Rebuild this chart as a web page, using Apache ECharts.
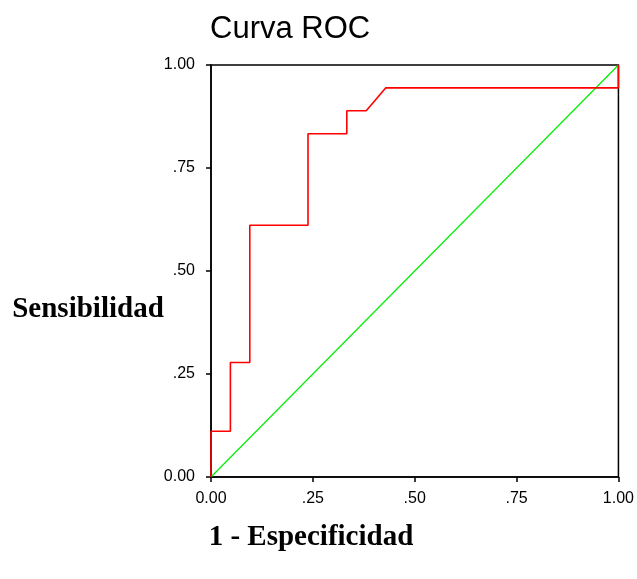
<!DOCTYPE html>
<html>
<head>
<meta charset="utf-8">
<script src="https://cdn.jsdelivr.net/npm/echarts@6/dist/echarts.min.js"></script>
<style>html,body{margin:0;padding:0;background:#fff;}#c{width:637px;height:579px;}</style>
</head>
<body>
<div id="c"></div>
<script>
var titleText = "Curva ROC";
var xName = "1 - Especificidad";
var yName = "Sensibilidad";
var rocX = [0, 0, 0.0476, 0.0476, 0.0952, 0.0952, 0.2381, 0.2381, 0.3333, 0.3333, 0.381, 0.4286, 1, 1];
var rocY = [0, 0.1111, 0.1111, 0.2778, 0.2778, 0.6111, 0.6111, 0.8333, 0.8333, 0.8889, 0.8889, 0.9444, 0.9444, 1];
var refX = [0, 1];
var refY = [0, 1];
var tickValues = [0, 0.25, 0.5, 0.75, 1];
var tickLabels = ["0.00", ".25", ".50", ".75", "1.00"];

function fmt(v) {
  for (var i = 0; i < tickValues.length; i++) {
    if (Math.abs(v - tickValues[i]) < 1e-9) return tickLabels[i];
  }
  return "";
}
function pairs(xs, ys) { return xs.map(function (x, i) { return [x, ys[i]]; }); }

var chart = echarts.init(document.getElementById('c'), null, {renderer: 'canvas'});
var axisCommon = {
  type: 'value', min: 0, max: 1, interval: 0.25,
  splitLine: {show: false},
  axisLine: {show: true, onZero: false, lineStyle: {color: '#000', width: 1.5}},
  axisTick: {show: true, length: 5, lineStyle: {color: '#000', width: 1.5}},
  axisLabel: {color: '#000', fontFamily: '"Liberation Sans", Arial', fontSize: 16, formatter: fmt}
};
chart.setOption({
  backgroundColor: '#fff',
  animation: false,
  grid: {left: 211, right: 17, top: 65, bottom: 102, show: true, borderColor: '#000', borderWidth: 1.5, backgroundColor: 'transparent'},
  xAxis: Object.assign({}, axisCommon, {axisLabel: Object.assign({}, axisCommon.axisLabel, {margin: 14})}),
  yAxis: Object.assign({}, axisCommon, {axisLabel: Object.assign({}, axisCommon.axisLabel, {margin: 16})}),
  graphic: [
    {type: 'text', left: 210, top: 14, style: {text: titleText, font: '31px "Liberation Sans", Arial', fill: '#000'}},
    {type: 'text', x: 88, y: 310, style: {text: yName, font: 'bold 29px "Liberation Serif", "Times New Roman"', fill: '#000', textAlign: 'center', textVerticalAlign: 'middle'}},
    {type: 'text', x: 311, y: 538, style: {text: xName, font: 'bold 29px "Liberation Serif", "Times New Roman"', fill: '#000', textAlign: 'center', textVerticalAlign: 'middle'}}
  ],
  series: [
    {type: 'line', data: pairs(refX, refY), symbol: 'none', lineStyle: {color: '#00ee00', width: 1.2}, z: 2},
    {type: 'line', data: pairs(rocX, rocY), symbol: 'none', lineStyle: {color: '#ff0000', width: 1.6}, z: 3}
  ]
});
</script>
</body>
</html>
